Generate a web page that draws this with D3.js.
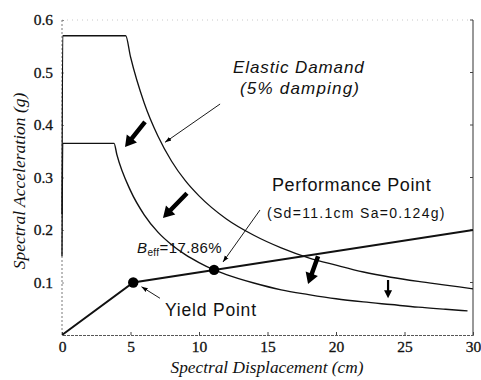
<!DOCTYPE html>
<html>
<head>
<meta charset="utf-8">
<script src="https://cdn.jsdelivr.net/npm/d3@7"></script>
<style>
  html, body { margin: 0; padding: 0; background: #fff; }
  svg { display: block; }
</style>
</head>
<body>
<svg id="chart" width="481" height="380"></svg>
<script>
// Spectral displacement (cm) / spectral acceleration (g) pairs
const elasticDemand = [
  [0, 0.23], [0.05, 0.57], [4.65, 0.57], [5, 0.53], [6, 0.442], [7, 0.379],
  [8, 0.331], [9, 0.294], [10, 0.265], [12, 0.221], [14, 0.19], [16, 0.166],
  [18, 0.147], [20, 0.133], [22, 0.12], [24, 0.11], [26, 0.102], [28, 0.095], [30, 0.088]
];
const reducedDemand = [
  [0, 0.15], [0.05, 0.365], [3.8, 0.365], [4, 0.344], [5, 0.275], [6, 0.229],
  [7, 0.196], [8, 0.172], [9, 0.153], [10, 0.138], [11.1, 0.124], [12, 0.115],
  [14, 0.099], [16, 0.086], [18, 0.077], [20, 0.069], [22, 0.063], [24, 0.058],
  [26, 0.053], [28, 0.049], [29.6, 0.046]
];
const capacity = [[0, 0], [5.2, 0.1], [11.1, 0.124], [30, 0.2]];
const yieldPoint = [5.2, 0.1];
const performancePoint = [11.1, 0.124];
const xTicks = [0, 5, 10, 15, 20, 25, 30];
const yTicks = [0.1, 0.2, 0.3, 0.4, 0.5, 0.6];
const yTickLabels = ["0.1", "0.2", "0.3", "0.4", "0.5", "0.6"];

// Shift arrows (tail -> tip) in data units
const shiftArrows = [
  [[6.06, 0.406], [4.6, 0.358]],
  [[9.12, 0.270], [7.37, 0.223]],
  [[18.69, 0.150], [17.96, 0.097]]
];
const smallArrow = [[23.8, 0.105], [23.8, 0.070]];

const svg = d3.select("#chart");
const x = d3.scaleLinear().domain([0, 30]).range([62, 473]);
const y = d3.scaleLinear().domain([0, 0.6]).range([335, 20]);

const serif = "'Liberation Serif', 'Times New Roman', serif";
const sans = "'Liberation Sans', Arial, sans-serif";

// frame
svg.append("line").attr("x1", x(0)).attr("x2", x(30)).attr("y1", y(0.6)).attr("y2", y(0.6))
  .attr("stroke", "#bbb").attr("stroke-width", 0.8).attr("stroke-dasharray", "1,4");
svg.append("line").attr("x1", x(30)).attr("x2", x(30)).attr("y1", y(0.6)).attr("y2", y(0))
  .attr("stroke", "#333").attr("stroke-width", 1);
svg.append("line").attr("x1", x(0)).attr("x2", x(0)).attr("y1", y(0.6)).attr("y2", y(0))
  .attr("stroke", "#555").attr("stroke-width", 0.8).attr("stroke-dasharray", "2,2");

// x axis
const xAxis = d3.axisBottom(x).tickValues(xTicks).tickSize(-3).tickPadding(6).tickFormat(d3.format("d"));
const gx = svg.append("g").attr("transform", `translate(0,${y(0)})`).call(xAxis);
gx.select(".domain").attr("stroke", "#444").attr("stroke-width", 0.9).attr("stroke-dasharray", "3,1");
gx.selectAll(".tick line").attr("stroke", "#444");
gx.selectAll("text").attr("font-family", serif).attr("font-size", 15.5).attr("fill", "#111")
  .attr("stroke", "#111").attr("stroke-width", 0.3);

// y axis
const yAxis = d3.axisLeft(y).tickValues(yTicks).tickSize(-2).tickPadding(9)
  .tickFormat((d, i) => yTickLabels[i]);
const gy = svg.append("g").attr("transform", `translate(${x(0)},0)`).call(yAxis);
gy.select(".domain").remove();
gy.selectAll(".tick line").attr("stroke", "#888");
gy.selectAll("text").attr("font-family", serif).attr("font-size", 15.5).attr("fill", "#111")
  .attr("stroke", "#111").attr("stroke-width", 0.3);

// right-side inner ticks
svg.append("g").selectAll("line").data(yTicks).join("line")
  .attr("x1", x(30)).attr("x2", x(30) - 3).attr("y1", d => y(d)).attr("y2", d => y(d))
  .attr("stroke", "#444");

// axis titles
svg.append("text").attr("x", 267).attr("y", 373).attr("text-anchor", "middle")
  .attr("font-family", serif).attr("font-style", "italic").attr("font-size", 17.3).attr("fill", "#111")
  .text("Spectral Displacement (cm)");
svg.append("text").attr("transform", `translate(25,181) rotate(-90)`)
  .attr("text-anchor", "middle")
  .attr("font-family", serif).attr("font-style", "italic").attr("font-size", 17.5).attr("fill", "#111")
  .text("Spectral Acceleration (g)");

const line = d3.line().x(d => x(d[0])).y(d => y(d[1])).curve(d3.curveMonotoneX);

svg.append("path").datum(elasticDemand).attr("d", line)
  .attr("fill", "none").attr("stroke", "#111").attr("stroke-width", 1.3);
svg.append("path").datum(reducedDemand).attr("d", line)
  .attr("fill", "none").attr("stroke", "#111").attr("stroke-width", 1.4);
svg.append("path").datum(capacity).attr("d", d3.line().x(d => x(d[0])).y(d => y(d[1])))
  .attr("fill", "none").attr("stroke", "#111").attr("stroke-width", 2);

svg.selectAll("circle.pt").data([yieldPoint, performancePoint]).join("circle")
  .attr("class", "pt").attr("cx", d => x(d[0])).attr("cy", d => y(d[1])).attr("r", 5.2)
  .attr("fill", "#000");

// thick block arrows
function blockArrow(tail, tip, shaft, headW, headL) {
  const x0 = x(tail[0]), y0 = y(tail[1]), x1 = x(tip[0]), y1 = y(tip[1]);
  const dx = x1 - x0, dy = y1 - y0, len = Math.hypot(dx, dy);
  const ux = dx / len, uy = dy / len, nx = -uy, ny = ux;
  const bx = x1 - ux * headL, by = y1 - uy * headL;
  const p = [
    [x0 + nx * shaft / 2, y0 + ny * shaft / 2],
    [bx + nx * shaft / 2, by + ny * shaft / 2],
    [bx + nx * headW / 2, by + ny * headW / 2],
    [x1, y1],
    [bx - nx * headW / 2, by - ny * headW / 2],
    [bx - nx * shaft / 2, by - ny * shaft / 2],
    [x0 - nx * shaft / 2, y0 - ny * shaft / 2]
  ];
  svg.append("path").attr("d", "M" + p.map(q => q.join(",")).join("L") + "Z").attr("fill", "#000");
}
shiftArrows.forEach(a => blockArrow(a[0], a[1], 4.5, 13, 11));
blockArrow(smallArrow[0], smallArrow[1], 2.2, 8, 8);

// thin leader arrows
svg.append("defs").append("marker").attr("id", "head").attr("viewBox", "0 0 10 10")
  .attr("refX", 10).attr("refY", 5).attr("markerWidth", 7).attr("markerHeight", 7)
  .attr("orient", "auto").append("path").attr("d", "M0,1.5L10,5L0,8.5Z").attr("fill", "#000");
const leaders = [
  [[11.54, 0.44], [7.52, 0.367]],
  [[14.45, 0.238], [11.75, 0.139]],
  [[7.15, 0.070], [5.8, 0.092]]
];
svg.selectAll("line.leader").data(leaders).join("line").attr("class", "leader")
  .attr("x1", d => x(d[0][0])).attr("y1", d => y(d[0][1]))
  .attr("x2", d => x(d[1][0])).attr("y2", d => y(d[1][1]))
  .attr("stroke", "#000").attr("stroke-width", 0.9).attr("marker-end", "url(#head)");

// annotations
svg.append("text").attr("x", 233).attr("y", 73)
  .attr("font-family", sans).attr("font-style", "italic").attr("font-size", 17).attr("letter-spacing", 0.9)
  .attr("fill", "#111").text("Elastic Damand");
svg.append("text").attr("x", 240).attr("y", 94)
  .attr("font-family", sans).attr("font-style", "italic").attr("font-size", 17).attr("letter-spacing", 1.2)
  .attr("fill", "#111").text("(5% damping)");
svg.append("text").attr("x", 272).attr("y", 191)
  .attr("font-family", sans).attr("font-size", 18).attr("letter-spacing", 0.6).attr("fill", "#111")
  .text("Performance Point");
svg.append("text").attr("x", 267).attr("y", 218)
  .attr("font-family", sans).attr("font-size", 14).attr("letter-spacing", 1.3).attr("fill", "#111")
  .text("(Sd=11.1cm Sa=0.124g)");
const beff = svg.append("text").attr("x", 137).attr("y", 253)
  .attr("font-family", sans).attr("font-size", 15).attr("letter-spacing", 0.4).attr("fill", "#111");
beff.append("tspan").attr("font-style", "italic").text("B");
beff.append("tspan").attr("font-size", 10).attr("dy", 3).text("eff");
beff.append("tspan").attr("dy", -3).text("=17.86%");
svg.append("text").attr("x", 165).attr("y", 316)
  .attr("font-family", sans).attr("font-size", 17.5).attr("letter-spacing", 0.8).attr("fill", "#111")
  .text("Yield Point");
</script>
</body>
</html>
